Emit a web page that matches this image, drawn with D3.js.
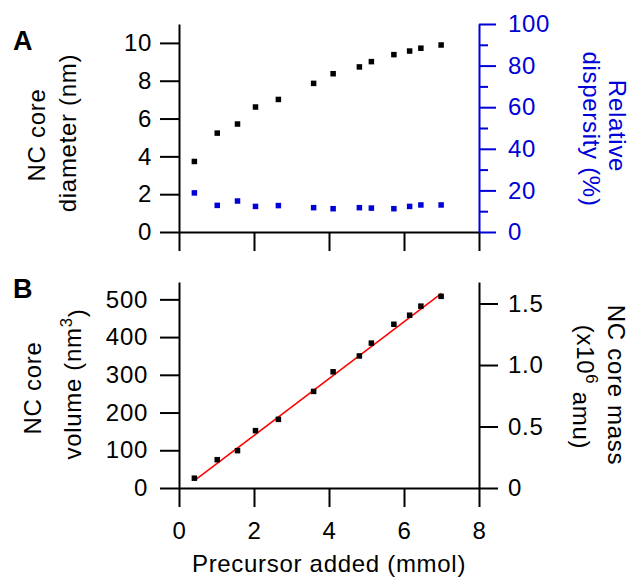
<!DOCTYPE html>
<html>
<head>
<meta charset="utf-8">
<script src="https://cdn.jsdelivr.net/npm/d3@7"></script>
<style>
  body { margin: 0; background: #fff; }
  svg { font-family: "Liberation Sans", Arial, Helvetica, sans-serif; }
</style>
</head>
<body>
<div id="chart"></div>
<script>
// Data
const precursor = [0.41, 1.02, 1.56, 2.04, 2.65, 3.59, 4.11, 4.81, 5.13, 5.73, 6.15, 6.45, 6.99]
const diameter = [3.73, 5.23, 5.71, 6.61, 7.01, 7.86, 8.37, 8.73, 9.01, 9.38, 9.57, 9.72, 9.89]
const dispersity = [18.8, 12.8, 14.9, 12.3, 12.7, 11.7, 11.2, 11.7, 11.5, 11.2, 12.3, 13.0, 13.0]
const volume = [26, 75, 99, 152, 182, 256, 308, 350, 384, 434, 458, 482, 508]
// linear fit line (end points)
const fitX = [0.47, 7.0]
const fitVolume = [24, 516]

const xTicks = [0, 2, 4, 6, 8]
const diameterTicks = [0, 2, 4, 6, 8, 10]
const dispersityTicks = [0, 10, 20, 30, 40, 50, 60, 70, 80, 90, 100]
const volumeTicks = [0, 100, 200, 300, 400, 500]
const massTicks = [0, 0.5, 1.0, 1.5]

function drawChart() {

  const blue = "#0000d8"
  const fontSize = 24

  let dimensions = {
    width: 632,
    height: 580,
    left: 179,
    right: 479,
    top: { y0: 232, y1: 24 },
    bottom: { y0: 488, y1: 282 },
  }

  const svg = d3.select("#chart")
    .append("svg")
    .attr("width", dimensions.width)
    .attr("height", dimensions.height)
    .style("font-size", fontSize + "px")
    .style("letter-spacing", "0.7px")

  // Scales
  const xScale = d3.scaleLinear()
    .domain([0, 8])
    .range([dimensions.left, dimensions.right])

  const diameterScale = d3.scaleLinear()
    .domain([0, 11])
    .range([dimensions.top.y0, dimensions.top.y1])

  const dispersityScale = d3.scaleLinear()
    .domain([0, 100])
    .range([dimensions.top.y0, dimensions.top.y1])

  const volumeScale = d3.scaleLinear()
    .domain([0, 546])
    .range([dimensions.bottom.y0, dimensions.bottom.y1])

  const massScale = d3.scaleLinear()
    .domain([0, 1.675])
    .range([dimensions.bottom.y0, dimensions.bottom.y1])

  const styleAxis = (g, color) => {
    g.select(".domain").attr("stroke", color).attr("stroke-width", 2)
    g.selectAll(".tick line").attr("stroke", color).attr("stroke-width", 2)
    g.selectAll(".tick text").attr("fill", color).attr("font-size", fontSize)
    g.attr("font-family", null)
  }

  // ---- Panel A ----
  const topX = svg.append("g")
    .attr("transform", `translate(0, ${dimensions.top.y0})`)
    .call(d3.axisBottom(xScale).tickValues(xTicks).tickSize(19).tickSizeOuter(0).tickFormat(""))
  styleAxis(topX, "#000")

  const diamAxis = svg.append("g")
    .attr("transform", `translate(${dimensions.left}, 0)`)
    .call(d3.axisLeft(diameterScale).tickValues(diameterTicks).tickSize(19).tickPadding(8).tickSizeOuter(0))
  styleAxis(diamAxis, "#000")

  const dispAxis = svg.append("g")
    .attr("transform", `translate(${dimensions.right}, 0)`)
    .call(d3.axisRight(dispersityScale).tickValues(dispersityTicks).tickSize(17).tickPadding(12).tickSizeOuter(0))
  styleAxis(dispAxis, blue)
  dispAxis.selectAll(".tick")
    .filter(d => d % 20 !== 0)
    .call(t => t.select("line").attr("x2", 9))
    .call(t => t.select("text").remove())

  svg.append("g")
    .selectAll("rect")
    .data(precursor)
    .join("rect")
    .attr("x", (d) => xScale(d) - 2.75)
    .attr("y", (d, i) => diameterScale(diameter[i]) - 2.75)
    .attr("width", 5.5)
    .attr("height", 5.5)
    .attr("fill", "#000")

  svg.append("g")
    .selectAll("rect")
    .data(precursor)
    .join("rect")
    .attr("x", (d) => xScale(d) - 2.75)
    .attr("y", (d, i) => dispersityScale(dispersity[i]) - 2.75)
    .attr("width", 5.5)
    .attr("height", 5.5)
    .attr("fill", blue)

  // ---- Panel B ----
  const bottomX = svg.append("g")
    .attr("transform", `translate(0, ${dimensions.bottom.y0})`)
    .call(d3.axisBottom(xScale).tickValues(xTicks).tickSize(19).tickPadding(15).tickSizeOuter(0))
  styleAxis(bottomX, "#000")

  const volAxis = svg.append("g")
    .attr("transform", `translate(${dimensions.left}, 0)`)
    .call(d3.axisLeft(volumeScale).tickValues(volumeTicks).tickSize(19).tickPadding(12).tickSizeOuter(0))
  styleAxis(volAxis, "#000")

  const massAxis = svg.append("g")
    .attr("transform", `translate(${dimensions.right}, 0)`)
    .call(d3.axisRight(massScale).tickValues(massTicks).tickSize(19).tickPadding(10).tickSizeOuter(0)
      .tickFormat(d => d === 0 ? "0" : d3.format(".1f")(d)))
  styleAxis(massAxis, "#000")

  const fitLine = d3.line()
    .x(d => xScale(d[0]))
    .y(d => volumeScale(d[1]))

  svg.append("path")
    .attr("d", fitLine(d3.zip(fitX, fitVolume)))
    .attr("fill", "none")
    .attr("stroke", "#ff0000")
    .attr("stroke-width", 1.5)

  svg.append("g")
    .selectAll("rect")
    .data(precursor)
    .join("rect")
    .attr("x", (d) => xScale(d) - 2.75)
    .attr("y", (d, i) => volumeScale(volume[i]) - 2.75)
    .attr("width", 5.5)
    .attr("height", 5.5)
    .attr("fill", "#000")

  // ---- Labels ----
  const vLabel = (x, y, angle, color) => svg.append("text")
    .attr("transform", `translate(${x}, ${y}) rotate(${angle})`)
    .attr("text-anchor", "middle")
    .attr("fill", color)

  vLabel(45, 135, -90, "#000").text("NC core")
  vLabel(76, 133, -90, "#000").text("diameter (nm)")

  vLabel(609, 126, 90, blue).text("Relative")
  vLabel(583, 129, 90, blue).text("dispersity (%)")

  vLabel(41, 388, -90, "#000").text("NC core")
  const volLabel = vLabel(81, 384, -90, "#000")
  volLabel.append("tspan").text("volume (nm")
  volLabel.append("tspan").attr("dy", "-0.55em").attr("font-size", "0.7em").text("3")
  volLabel.append("tspan").attr("dy", "0.55em").text(")")

  vLabel(608, 385, 90, "#000").text("NC core mass")
  const massLabel = vLabel(577, 387, 90, "#000")
  massLabel.append("tspan").text("(x10")
  massLabel.append("tspan").attr("dy", "-0.55em").attr("font-size", "0.7em").text("6")
  massLabel.append("tspan").attr("dy", "0.55em").text(" amu)")

  svg.append("text")
    .attr("x", xScale(4))
    .attr("y", 572)
    .attr("text-anchor", "middle")
    .text("Precursor added (mmol)")

  svg.append("text")
    .attr("x", 13)
    .attr("y", 50)
    .style("font-weight", "bold")
    .style("font-size", "27px")
    .style("letter-spacing", "0px")
    .text("A")

  svg.append("text")
    .attr("x", 13)
    .attr("y", 298)
    .style("font-weight", "bold")
    .style("font-size", "27px")
    .style("letter-spacing", "0px")
    .text("B")
}
drawChart()
</script>
</body>
</html>
